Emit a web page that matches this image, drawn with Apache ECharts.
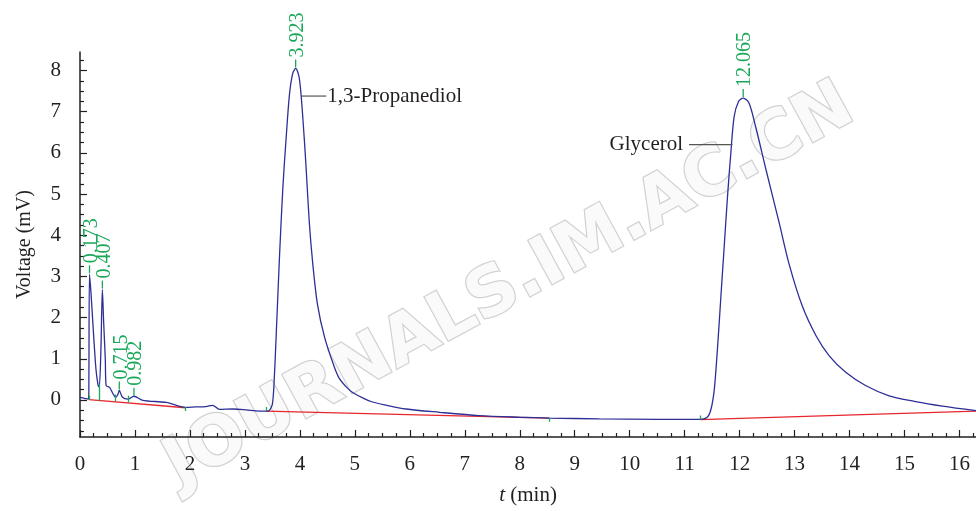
<!DOCTYPE html>
<html>
<head>
<meta charset="utf-8">
<title>Chromatogram</title>
<script src="https://cdn.jsdelivr.net/npm/echarts@6.0.0/dist/echarts.min.js"></script>
<style>
html, body { margin: 0; padding: 0; background: #fff; }
#main { width: 976px; height: 511px; }
</style>
</head>
<body>
<div id="main"></div>
<script type="text/javascript">
// detector signal, [t (min), voltage (mV)]
var signal = [
  [0, 0.06], [0.08, 0.04], [0.15, 0.02], [0.16, 0.1], [0.173, 3.05], [0.2, 2.6],
  [0.23, 1.95], [0.29, 0.75], [0.33, 0.35], [0.35, 0.32], [0.38, 1.2], [0.407, 2.68],
  [0.43, 1.9], [0.46, 1.0], [0.475, 0.35], [0.54, 0.3], [0.6, 0.15], [0.65, 0.06],
  [0.69, 0.14], [0.715, 0.23], [0.77, 0.07], [0.87, 0.02], [0.982, 0.09], [1.14, -0.01],
  [1.57, -0.06], [1.92, -0.18], [2.1, -0.17], [2.29, -0.16], [2.41, -0.13], [2.54, -0.23],
  [2.78, -0.22], [3.02, -0.24], [3.26, -0.27], [3.41, -0.27], [3.45, -0.25], [3.5, -0.1],
  [3.53, 0.4], [3.57, 1.6], [3.63, 3.5], [3.69, 5.15], [3.75, 6.36], [3.81, 7.41],
  [3.87, 7.93], [3.923, 8.05], [3.99, 7.81], [4.05, 6.92], [4.11, 5.71], [4.17, 4.34],
  [4.23, 3.37], [4.32, 2.32], [4.45, 1.52], [4.63, 0.79], [4.72, 0.52], [4.87, 0.28],
  [4.96, 0.18], [5.17, 0.03], [5.32, -0.05], [5.54, -0.12], [5.93, -0.22], [6.54, -0.3],
  [7.26, -0.38], [7.99, -0.42], [8.54, -0.44], [9.45, -0.46], [10.5, -0.47], [11.26, -0.47],
  [11.41, -0.42], [11.48, -0.22], [11.54, 0.27], [11.6, 1.31], [11.66, 2.53], [11.72, 3.74],
  [11.78, 4.95], [11.84, 6.0], [11.9, 6.88], [11.98, 7.25], [12.065, 7.33], [12.17, 7.21],
  [12.29, 6.64], [12.48, 5.59], [12.72, 4.3], [12.9, 3.3], [13.14, 2.28], [13.39, 1.56],
  [13.63, 1.07], [13.93, 0.67], [14.29, 0.35], [14.72, 0.1], [15.2, -0.04], [15.69, -0.15],
  [16.3, -0.26]
];

// integration baselines [t0, v0, t1, v1]
var baselines = [
  [0.16, 0.01, 1.92, -0.19],
  [3.38, -0.27, 8.54, -0.44],
  [11.28, -0.48, 16.3, -0.27]
];

// small green marks where peaks start / end [t, vLow, vHigh]
var peakMarks = [
  [0.16, 0.0, 0.11], [0.35, -0.02, 0.38], [0.65, -0.04, 0.13], [0.87, -0.06, 0.1],
  [1.92, -0.27, -0.17], [3.38, -0.27, -0.17], [8.54, -0.53, -0.44], [11.28, -0.48, -0.38]
];

// retention times and apex heights
var peakTimes = [0.173, 0.407, 0.715, 0.982, 3.923, 12.065];
var peakHeights = [3.05, 2.68, 0.23, 0.08, 8.05, 7.33];

// compound names: [leader start t, leader end t, v]
var compoundNames = ['1,3-Propanediol', 'Glycerol'];
var compoundLeaders = [[4.02, 4.48, 7.38], [11.87, 11.08, 6.2]];

var xTicks = [0, 1, 2, 3, 4, 5, 6, 7, 8, 9, 10, 11, 12, 13, 14, 15, 16];
var yTicks = [0, 1, 2, 3, 4, 5, 6, 7, 8];

var xMin = 0, xMax = 16.3, yMin = -0.9, yMax = 8.45;

var serif = '"Liberation Serif", "Times New Roman", serif';
var ink = '#231f20';
var green = '#1aa85a';

function quarters(a, b) {
  var arr = [];
  for (var v = a; v <= b + 1e-9; v += 0.25) {
    if (Math.abs(v - Math.round(v)) > 1e-6) arr.push(+v.toFixed(2));
  }
  return arr;
}

var myChart = echarts.init(document.getElementById('main'));

var peakData = peakTimes.map(function (t, i) { return [t, peakHeights[i]]; });
var leaderData = compoundLeaders.map(function (d, i) { return [d[0], d[1], d[2], i]; });

var option = {
  animation: false,
  backgroundColor: '#fff',
  grid: { left: 80, right: 0, top: 52, bottom: 73 },
  graphic: [{
    type: 'text',
    x: 510, y: 287,
    rotation: Math.PI / 6.3,
    z: -10,
    silent: true,
    style: {
      text: 'JOURNALS.IM.AC.CN',
      font: 'bold 68px "DejaVu Sans"',
      align: 'center',
      verticalAlign: 'middle',
      fill: '#fafafa',
      stroke: '#d2d2d2',
      lineWidth: 2.5,
      shadowColor: 'rgba(0,0,0,0.15)',
      shadowBlur: 6,
      shadowOffsetX: 3,
      shadowOffsetY: 3
    }
  }],
  xAxis: [{
    type: 'value',
    min: xMin, max: xMax,
    name: '{it|t} (min)',
    nameLocation: 'middle',
    nameGap: 48,
    nameTextStyle: {
      fontFamily: serif, fontSize: 21, color: ink,
      rich: { it: { fontFamily: serif, fontSize: 21, fontStyle: 'italic', color: ink } }
    },
    axisLine: { show: true, onZero: false, lineStyle: { color: ink, width: 1.5 } },
    axisTick: { show: true, inside: true, length: 7, customValues: xTicks, lineStyle: { color: ink, width: 1.2 } },
    axisLabel: { customValues: xTicks, margin: 17, fontFamily: serif, fontSize: 21, color: ink },
    splitLine: { show: false }
  }, {
    type: 'value',
    min: xMin, max: xMax,
    position: 'bottom',
    axisLine: { show: false, onZero: false },
    axisTick: { show: true, inside: true, length: 4, customValues: quarters(0, 16.25), lineStyle: { color: ink, width: 1.2 } },
    axisLabel: { show: false },
    splitLine: { show: false }
  }],
  yAxis: [{
    type: 'value',
    min: yMin, max: yMax,
    name: 'Voltage (mV)',
    nameLocation: 'middle',
    nameGap: 45,
    nameTextStyle: { fontFamily: serif, fontSize: 20, color: ink },
    axisLine: { show: true, onZero: false, lineStyle: { color: ink, width: 1.5 } },
    axisTick: { show: true, inside: true, length: 7, customValues: yTicks, lineStyle: { color: ink, width: 1.2 } },
    axisLabel: { customValues: yTicks, margin: 19, fontFamily: serif, fontSize: 21, color: ink },
    splitLine: { show: false }
  }, {
    type: 'value',
    min: yMin, max: yMax,
    position: 'left',
    offset: 0,
    axisLine: { show: false, onZero: false },
    axisTick: { show: true, inside: true, length: 4, customValues: quarters(-0.75, 8.25), lineStyle: { color: ink, width: 1.2 } },
    axisLabel: { show: false },
    splitLine: { show: false }
  }],
  series: [
    {
      name: 'baseline',
      type: 'lines',
      coordinateSystem: 'cartesian2d',
      silent: true,
      z: 3,
      lineStyle: { color: '#e8262e', width: 1.3, opacity: 1 },
      data: baselines.map(function (b) { return { coords: [[b[0], b[1]], [b[2], b[3]]] }; })
    },
    {
      name: 'signal',
      type: 'line',
      data: signal,
      z: 4,
      symbol: 'none',
      smooth: 0.3,
      lineStyle: { color: '#2e2f96', width: 1.3 }
    },
    {
      name: 'marks',
      type: 'lines',
      coordinateSystem: 'cartesian2d',
      silent: true,
      z: 5,
      lineStyle: { color: green, width: 1.3, opacity: 1 },
      data: peakMarks.map(function (m) { return { coords: [[m[0], m[1]], [m[0], m[2]]] }; })
    },
    {
      name: 'peaks',
      type: 'custom',
      silent: true,
      z: 6,
      data: peakData,
      renderItem: function (params, api) {
        var t = api.value(0);
        var p = api.coord([t, api.value(1)]);
        return {
          type: 'group',
          children: [{
            type: 'line',
            shape: { x1: p[0], y1: p[1] - 1, x2: p[0], y2: p[1] - 9 },
            style: { stroke: green, lineWidth: 1.3 }
          }, {
            type: 'text',
            x: p[0] + 2,
            y: p[1] - 11,
            rotation: Math.PI / 2,
            style: {
              text: t.toFixed(3),
              font: '20px ' + serif,
              fill: green,
              align: 'left',
              verticalAlign: 'middle'
            }
          }]
        };
      }
    },
    {
      name: 'compounds',
      type: 'custom',
      silent: true,
      z: 6,
      data: leaderData,
      renderItem: function (params, api) {
        var a = api.coord([api.value(0), api.value(2)]);
        var b = api.coord([api.value(1), api.value(2)]);
        var right = b[0] > a[0];
        return {
          type: 'group',
          children: [{
            type: 'line',
            shape: { x1: a[0], y1: a[1], x2: b[0], y2: b[1] },
            style: { stroke: '#555', lineWidth: 1.2 }
          }, {
            type: 'text',
            x: right ? b[0] + 1 : b[0] - 6,
            y: b[1],
            style: {
              text: compoundNames[api.value(3)],
              font: '21px ' + serif,
              fill: ink,
              align: right ? 'left' : 'right',
              verticalAlign: 'middle'
            }
          }]
        };
      }
    }
  ]
};

myChart.setOption(option);
</script>
</body>
</html>
